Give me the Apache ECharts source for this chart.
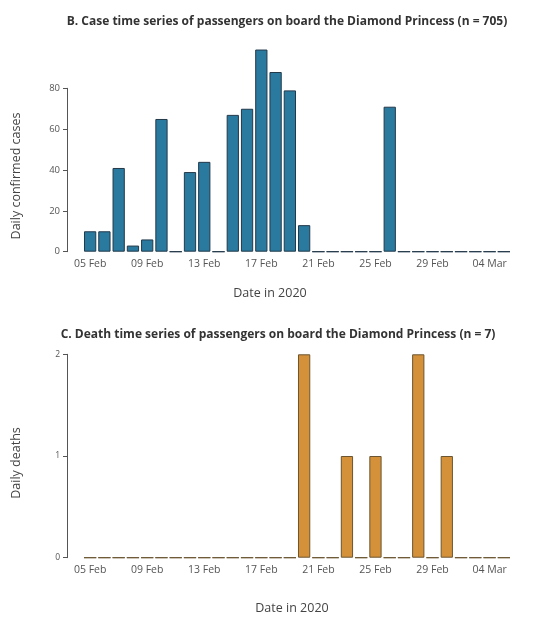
<!DOCTYPE html>
<html>
<head>
<meta charset="utf-8">
<script src="https://cdn.jsdelivr.net/npm/echarts@6/dist/echarts.min.js"></script>
<style>
html,body{margin:0;padding:0;background:#fff;}
#c{width:540px;height:617px;}
</style>
</head>
<body>
<div id="c"></div>
<script>
var dates = ['05 Feb','06 Feb','07 Feb','08 Feb','09 Feb','10 Feb','11 Feb','12 Feb','13 Feb','14 Feb',
  '15 Feb','16 Feb','17 Feb','18 Feb','19 Feb','20 Feb','21 Feb','22 Feb','23 Feb','24 Feb',
  '25 Feb','26 Feb','27 Feb','28 Feb','29 Feb','01 Mar','02 Mar','03 Mar','04 Mar','05 Mar'];
var cases = [10,10,41,3,6,65,0,39,44,0,67,70,99,88,79,13,0,0,0,0,0,71,0,0,0,0,0,0,0,0];
var deaths = [0,0,0,0,0,0,0,0,0,0,0,0,0,0,0,2,0,0,1,0,1,0,0,2,0,1,0,0,0,0];
var caseTicks = [0,20,40,60,80];
var deathTicks = [0,1,2];

var FONT = '"Open Sans", "Noto Sans", sans-serif';
var chart = echarts.init(document.getElementById('c'), null, {renderer:'canvas'});

var xLab = {show:true, interval: function(i){ return i % 4 === 0; }, color:'#555', fontSize:10.5, fontFamily:FONT, margin:7};

chart.setOption({
  backgroundColor:'#fff',
  animation:false,
  title:[
    {text:'B. Case time series of passengers on board the Diamond Princess (n = 705)', left:282, top:11, textAlign:'center',
      textStyle:{fontSize:12, fontWeight:'bold', color:'#333', fontFamily:FONT}},
    {text:'C. Death time series of passengers on board the Diamond Princess (n = 7)', left:273, top:324, textAlign:'center',
      textStyle:{fontSize:12, fontWeight:'bold', color:'#333', fontFamily:FONT}}
  ],
  grid:[
    {left:83, right:29, top:47.5, height:204.2},
    {left:83, right:29, top:88.3, height:163.4},
    {left:83, right:29, top:354.3, height:203.4}
  ],
  xAxis:[
    {type:'category', gridIndex:0, data:dates, axisLine:{show:false}, axisTick:{show:false},
      axisLabel:xLab,
      name:'Date in 2020', nameLocation:'middle', nameGap:35,
      nameTextStyle:{fontSize:12.5, color:'#444', fontFamily:FONT, padding:[0,54,0,0]}},
    {type:'category', gridIndex:1, data:dates, show:false},
    {type:'category', gridIndex:2, data:dates, axisLine:{show:false}, axisTick:{show:false},
      axisLabel:xLab,
      name:'Date in 2020', nameLocation:'middle', nameGap:44,
      nameTextStyle:{fontSize:12.5, color:'#444', fontFamily:FONT, padding:[0,10,0,0]}}
  ],
  yAxis:[
    {type:'value', gridIndex:0, min:0, max:100, show:false},
    {type:'value', gridIndex:1, min:0, max:caseTicks[caseTicks.length-1], interval:20, offset:16,
      splitLine:{show:false},
      axisLine:{show:true, lineStyle:{color:'#555', width:1}},
      axisTick:{show:true, length:4, lineStyle:{color:'#555'}},
      axisLabel:{color:'#555', fontSize:9.5, fontFamily:FONT, margin:7},
      name:'Daily confirmed cases', nameLocation:'middle', nameGap:44,
      nameTextStyle:{fontSize:12.5, color:'#444', fontFamily:FONT, padding:[0,12,0,0]}},
    {type:'value', gridIndex:2, min:0, max:deathTicks[deathTicks.length-1], interval:1, offset:16,
      splitLine:{show:false},
      axisLine:{show:true, lineStyle:{color:'#555', width:1}},
      axisTick:{show:true, length:4, lineStyle:{color:'#555'}},
      axisLabel:{color:'#555', fontSize:8.5, fontFamily:FONT, margin:7},
      name:'Daily deaths', nameLocation:'middle', nameGap:44,
      nameTextStyle:{fontSize:12.5, color:'#444', fontFamily:FONT, padding:[0,14,0,0]}}
  ],
  series:[
    {type:'bar', xAxisIndex:0, yAxisIndex:0, data:cases, barCategoryGap:'14%',
      itemStyle:{color:'#2a7aa0', borderColor:'#22394a', borderWidth:1}},
    {type:'bar', xAxisIndex:2, yAxisIndex:2, data:deaths, barCategoryGap:'14%',
      itemStyle:{color:'#d5913a', borderColor:'#6b5530', borderWidth:1}}
  ]
});
</script>
</body>
</html>
